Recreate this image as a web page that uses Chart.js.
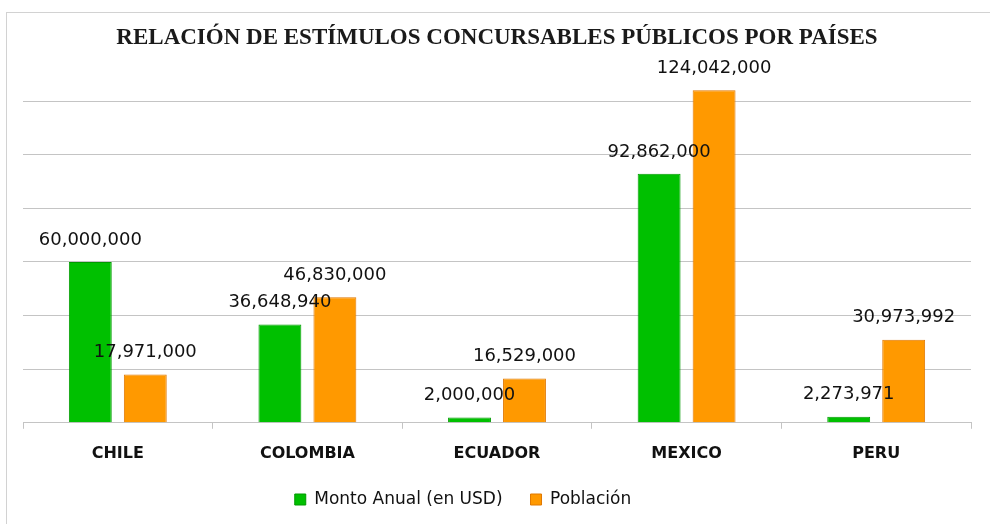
<!DOCTYPE html>
<html>
<head>
<meta charset="utf-8">
<script src="https://cdn.jsdelivr.net/npm/chart.js@4.4.1/dist/chart.umd.min.js"></script>
<style>
    html, body { margin: 0; padding: 0; background: #fff; }
    #frame { position: absolute; left: 6px; top: 12px; width: 1000px; height: 520px;
             border-left: 1.5px solid #d2d2d2; border-top: 1.5px solid #d2d2d2; }
    #box { position: absolute; left: 0; top: 0; width: 990px; height: 524px; }
</style>
</head>
<body>
<div id="frame"></div>
<div id="box"><canvas id="myChart"></canvas></div>
<script>
const countries = ['CHILE', 'COLOMBIA', 'ECUADOR', 'MEXICO', 'PERU'];
const montoAnual = [60000000, 36648940, 2000000, 92862000, 2273971];
const poblacion = [17971000, 46830000, 16529000, 124042000, 30973992];
const seriesNames = ['Monto Anual (en USD)', 'Población'];
const chartTitle = 'RELACIÓN DE ESTÍMULOS CONCURSABLES PÚBLICOS POR PAÍSES';

// value labels above each bar
const barLabels = {
    id: 'barLabels',
    afterDatasetsDraw(chart) {
        const ctx = chart.ctx;
        ctx.save();
        ctx.font = '18px "DejaVu Sans"';
        ctx.fillStyle = '#111';
        ctx.textAlign = 'center';
        ctx.textBaseline = 'middle';
        chart.data.datasets.forEach((ds, i) => {
            chart.getDatasetMeta(i).data.forEach((bar, j) => {
                ctx.fillText(ds.data[j].toLocaleString('en-US'), bar.x, bar.y - 22);
            });
        });
        ctx.restore();
    }
};

// excel puts the legend a bit left of centre
const legendShift = {
    id: 'legendShift',
    afterLayout(chart) {
        const lg = chart.legend;
        lg.left -= 34; lg.right -= 34;
        lg.top -= 15; lg.bottom -= 15;
    }
};

const data = {
    labels: countries,
    datasets: [{
        label: seriesNames[0],
        data: montoAnual,
        backgroundColor: '#00c000',
        borderColor: '#009a00',
        borderWidth: 1
    }, {
        label: seriesNames[1],
        data: poblacion,
        backgroundColor: '#ff9900',
        borderColor: '#e07800',
        borderWidth: 1
    }]
};

const config = {
    type: 'bar',
    data: data,
    plugins: [barLabels, legendShift],
    options: {
        responsive: true,
        maintainAspectRatio: false,
        animation: false,
        categoryPercentage: 0.58,
        barPercentage: 0.78,
        layout: { padding: { left: 23, right: 19, top: 0, bottom: -9 } },
        plugins: {
            title: {
                display: true,
                text: chartTitle,
                color: '#1a1a1a',
                font: { family: '"Liberation Serif"', size: 23, weight: 'bold' },
                padding: { top: 24, bottom: -4.1 }
            },
            legend: {
                position: 'bottom',
                labels: {
                    color: '#111',
                    font: { family: '"DejaVu Sans"', size: 17 },
                    boxWidth: 11,
                    boxHeight: 11,
                    padding: 28
                }
            },
            tooltip: { enabled: false }
        },
        scales: {
            x: {
                grid: { drawOnChartArea: false, color: '#c4c4c4', tickLength: 6 },
                border: { color: '#c4c4c4' },
                ticks: {
                    color: '#111',
                    font: { family: '"DejaVu Sans"', size: 16, weight: 'bold' },
                    padding: 15
                }
            },
            y: {
                min: 0,
                max: 140000000,
                grid: {
                    drawTicks: false,
                    tickLength: 0,
                    color: (c) => c.tick && c.tick.value > 120000000 ? 'rgba(0,0,0,0)' : '#c4c4c4'
                },
                border: { display: false },
                ticks: { display: false, stepSize: 20000000 }
            }
        }
    }
};

const myChart = new Chart(document.getElementById('myChart'), config);
</script>
</body>
</html>
